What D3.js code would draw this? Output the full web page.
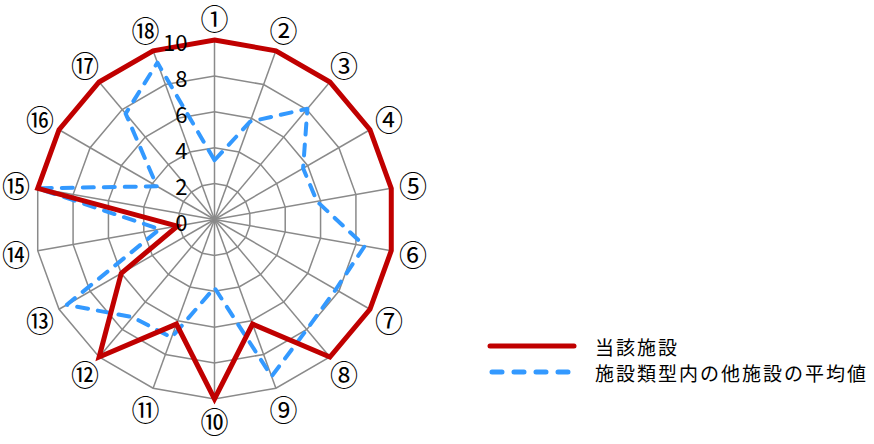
<!DOCTYPE html>
<html>
<head>
<meta charset="utf-8">
<script src="https://cdn.jsdelivr.net/npm/d3@7"></script>
<style>
  html, body { margin: 0; padding: 0; background: #fff; }
  svg { display: block; }
</style>
</head>
<body>
<svg id="chart" width="874" height="444"></svg>
<script>
const categories = ["①","②","③","④","⑤","⑥","⑦","⑧","⑨","⑩","⑪","⑫","⑬","⑭","⑮","⑯","⑰","⑱"];
const facilityValues = [10,10,10,10,10,10,10,10,6.2,10,6.2,10,6,2.1,10,10,10,10];
const averageValues = [3.3,5.8,8.05,5.7,5.8,8.5,7.8,8.0,9.3,3.8,7.0,7.1,9.5,3.1,10,3.7,7.7,9.3];
const tickValues = [0,2,4,6,8,10];
const seriesNames = ["当該施設","施設類型内の他施設の平均値"];

const svg = d3.select("#chart");
const cx = 214.5, cy = 219.5, R = 179.5;
const n = categories.length;
const r = d3.scaleLinear().domain([0, 10]).range([0, R]);
const angle = d3.scaleLinear().domain([0, n]).range([0, 2 * Math.PI]);
const g = svg.append("g").attr("transform", `translate(${cx},${cy})`);
const pt = (i, v) => [Math.sin(angle(i)) * r(v), -Math.cos(angle(i)) * r(v)];

const gridColor = "#8a8a8a";
tickValues.filter(t => t > 0).forEach(t => {
  g.append("path")
    .attr("d", d3.line()(d3.range(n).map(i => pt(i, t))) + "Z")
    .attr("fill", "none").attr("stroke", gridColor).attr("stroke-width", 1.5);
});
d3.range(n).forEach(i => {
  const p = pt(i, 10);
  g.append("line").attr("x1", 0).attr("y1", 0).attr("x2", p[0]).attr("y2", p[1])
    .attr("stroke", gridColor).attr("stroke-width", 1.5);
});

const radial = d3.lineRadial().angle((d, i) => angle(i)).radius(d => r(d)).curve(d3.curveLinearClosed);

g.append("path").attr("d", radial(averageValues))
  .attr("fill", "none").attr("stroke", "#3399ff").attr("stroke-width", 4)
  .attr("stroke-dasharray", "11,10").attr("stroke-linecap", "round").attr("stroke-linejoin", "round");

g.append("path").attr("d", radial(facilityValues))
  .attr("fill", "none").attr("stroke", "#c00000").attr("stroke-width", 5)
  .attr("stroke-linejoin", "miter").attr("stroke-miterlimit", 10);

const font = "'Noto Sans CJK JP', 'Noto Sans', sans-serif";
categories.forEach((c, i) => {
  const a = angle(i);
  const lr = R + 22;
  g.append("text")
    .attr("x", Math.sin(a) * lr).attr("y", -Math.cos(a) * lr)
    .attr("text-anchor", "middle").attr("dominant-baseline", "central")
    .attr("font-family", font).attr("font-size", 28).attr("fill", "#000")
    .text(c);
});

tickValues.forEach(t => {
  g.append("text")
    .attr("x", -27).attr("y", -r(t) + 1)
    .attr("text-anchor", "end").attr("dominant-baseline", "central")
    .attr("font-family", font).attr("font-size", 22).attr("fill", "#000")
    .text(t);
});

const lg = svg.append("g");
const legendY = [346, 372];
lg.append("line").attr("x1", 490).attr("x2", 574).attr("y1", legendY[0]).attr("y2", legendY[0])
  .attr("stroke", "#c00000").attr("stroke-width", 5).attr("stroke-linecap", "round");
lg.append("line").attr("x1", 492).attr("x2", 568).attr("y1", legendY[1]).attr("y2", legendY[1])
  .attr("stroke", "#3399ff").attr("stroke-width", 5).attr("stroke-linecap", "round")
  .attr("stroke-dasharray", "10,12");
seriesNames.forEach((s, i) => {
  lg.append("text").attr("x", 595).attr("y", legendY[i])
    .attr("dominant-baseline", "central")
    .attr("font-family", font).attr("font-size", 19).attr("letter-spacing", 2).attr("fill", "#000")
    .text(s);
});
</script>
</body>
</html>
